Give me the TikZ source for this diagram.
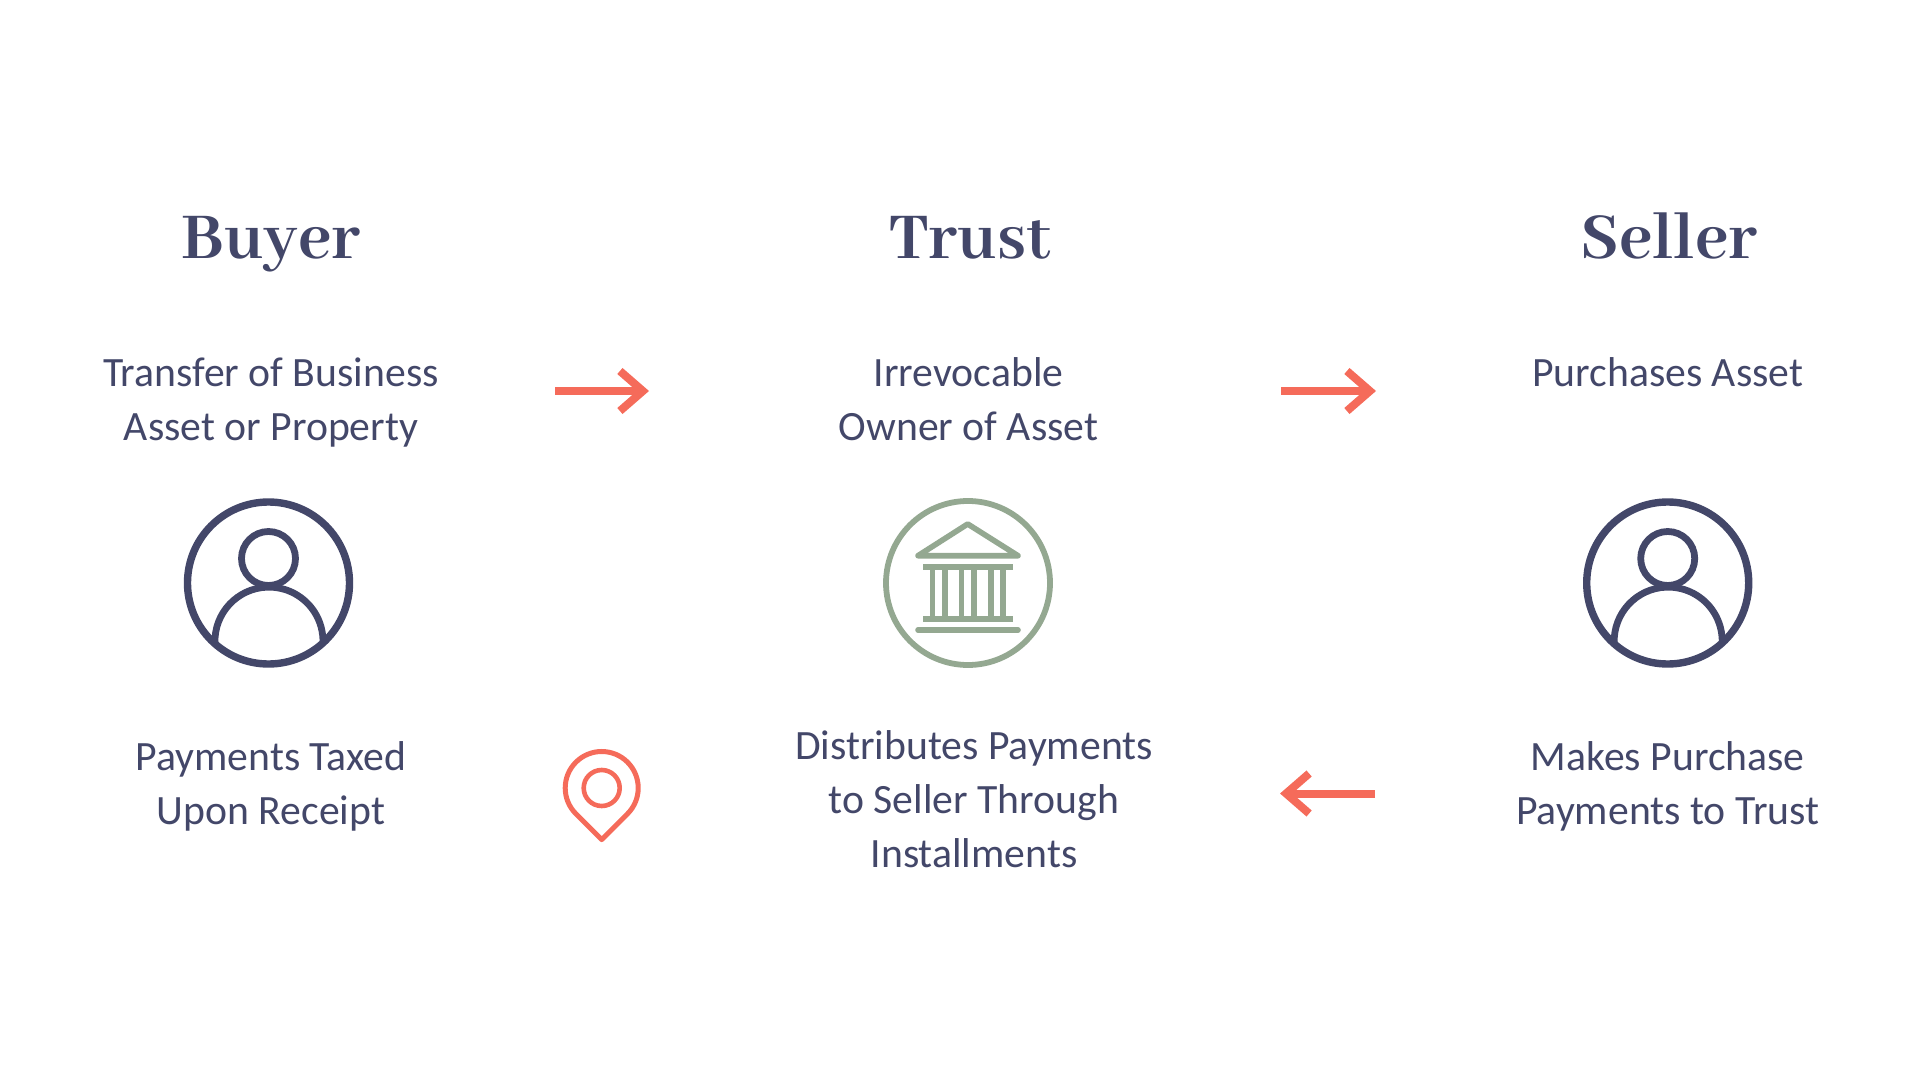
\documentclass[tikz,border=0pt]{standalone}
\usepackage{fontspec}
\usetikzlibrary{arrows.meta}
\setmainfont{Carlito}
\newfontfamily\titlefont{Abhaya Libre}[BoldFont={Abhaya Libre Bold}]
\definecolor{navy}{HTML}{434769}
\definecolor{sage}{HTML}{94A891}
\definecolor{coral}{HTML}{F56B5A}
\begin{document}
\begin{tikzpicture}
[
    x=0.5pt, y=-0.5pt,
    title/.style={text=navy, anchor=base, inner sep=0pt, font=\titlefont\bfseries\fontsize{36}{40}\selectfont},
    label/.style={text=navy, align=center, inner sep=0pt, font=\fontsize{20.85}{27}\selectfont},
    ring/.style={circle, draw, line width=3.7pt, minimum size=81pt, inner sep=0pt},
    flow/.style={draw=coral, line width=4pt, -{Straight Barb[length=11.5pt, width=20pt, line width=4pt]}},
    person/.pic={
        \draw[navy, line width=3.4pt] (0,-24.5) circle [radius=27];
        \draw[navy, line width=3.4pt] (-53.5,60) arc [start angle=178, end angle=362, radius=54];
    },
]
\useasboundingbox (0,0) rectangle (1920,1080);

% headings
\node [title] (buyer) at (271,259) {Buyer};
\node [title] (trust) at (970,259) {Trust};
\node [title] (seller) at (1669,259) {Seller};

% top row
\node [label] (transfer) at (271,402.5) {Transfer of Business\\Asset or Property};
\node [label] (owner) at (968.5,399) {Irrevocable\\Owner of Asset};
\node [label] (purchases) at (1667.7,372) {Purchases Asset};

% rings
\node [ring, draw=navy] (buyerring) at (268.5,583) {};
\node [ring, draw=sage, line width=2.9pt, minimum size=82pt] (trustring) at (968,583) {};
\node [ring, draw=navy] (sellerring) at (1667.7,583) {};
\pic at (buyerring) {person};
\pic at (sellerring) {person};

% temple
\draw[sage, line width=2.8pt, line join=round, line cap=round] (918,555.7) -- (967.7,524) -- (1018,555.7) -- cycle;
\draw[sage, line width=2.8pt] (923,566.7) -- (1012.7,566.7);
\draw[sage, line width=2.8pt] (923,619) -- (1012.7,619);
\draw[sage, line width=2.8pt, line cap=round] (918,630) -- (1018,630);
\foreach \colx in {932.7,945,961.7,974,991,1003}
    \draw[sage, line width=2.6pt] (\colx,566.7) -- (\colx,619);

% bottom row
\node [label] (taxed) at (271,786.3) {Payments Taxed\\Upon Receipt};
\node [label] (distributes) at (974,799) {Distributes Payments\\to Seller Through\\Installments};
\node [label] (makes) at (1667.7,786.3) {Makes Purchase\\Payments to Trust};

% pin
\draw[coral, line width=2.5pt, line join=round] (575.9,813.8) arc [start angle=135, end angle=405, radius=36.5] -- (601.7,839.6) -- cycle;
\node [circle, draw=coral, line width=2.3pt, minimum size=18pt, inner sep=0pt] (pinhole) at (601.7,788) {};

% arrows
\coordinate (a1) at (555,391);
\coordinate (a2) at (649,391);
\coordinate (b1) at (1281,391);
\coordinate (b2) at (1376,391);
\coordinate (c1) at (1375,793.5);
\coordinate (c2) at (1280,793.5);
\draw[flow] (a1) -- (a2);
\draw[flow] (b1) -- (b2);
\draw[flow] (c1) -- (c2);
\end{tikzpicture}
\end{document}
